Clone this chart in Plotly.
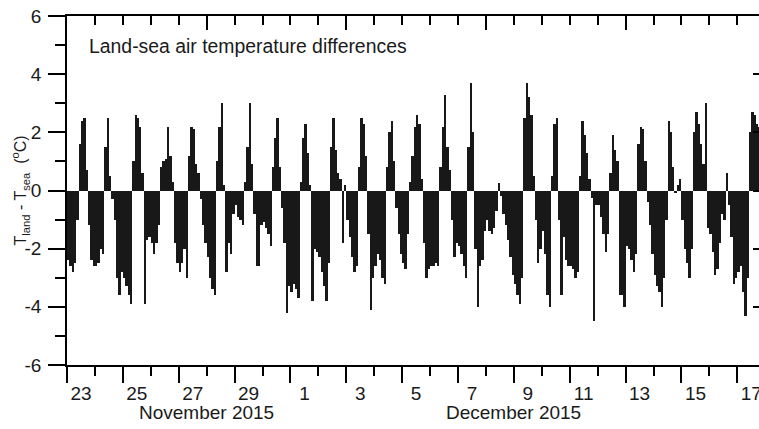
import pandas as pd
import plotly.graph_objects as go

# Land-sea air temperature difference (degC), 2-hourly bins (00-02, 02-04, ... 22-24 h)
nov23 = [-2.4, -2.6, -2.8, -2.5, -1.0, 1.6, 2.4, 2.5, 0.7, -1.2, -2.4, -2.6]
nov24 = [-2.6, -2.5, -2.0, -2.2, 1.5, 2.5, 0.5, -0.3, -1.0, -3.0, -3.6, -2.8]
nov25 = [-3.0, -3.3, -3.6, -3.9, 1.0, 2.6, 2.5, 2.2, 0.6, -3.9, -1.7, -1.6]
nov26 = [-1.8, -2.2, -1.8, -1.2, 0.8, 1.0, 1.1, 2.2, 1.2, 0.3, -1.8, -2.5]
nov27 = [-2.8, -2.5, -2.0, -3.0, 1.2, 2.2, 2.1, 0.9, 0.6, -0.3, -1.2, -1.8]
nov28 = [-2.3, -3.0, -3.4, -3.6, 1.0, 2.2, 3.0, 0.2, -2.8, -1.8, -2.2, -0.8]
nov29 = [-0.5, -0.9, -1.0, -1.2, 0.3, 1.5, 3.0, 0.9, -0.8, -2.6, -2.6, -1.2]
nov30 = [-1.1, -1.3, -1.5, -1.9, 0.8, 1.8, 2.5, 0.8, -0.6, -1.8, -4.2, -3.3]
dec01 = [-3.5, -3.2, -3.4, -3.7, 0.3, 1.8, 2.3, 1.3, 0.2, -3.8, -2.0, -2.1]
dec02 = [-2.3, -2.8, -3.3, -3.8, -2.5, 1.5, 2.5, 1.4, 0.6, 0.4, -1.8, 0.2]
dec03 = [-1.0, -1.6, -2.3, -2.8, -2.6, 0.8, 2.5, 2.3, 1.2, -1.5, -4.1, -3.0]
dec04 = [-2.6, -2.2, -2.4, -3.0, -3.2, 0.8, 2.0, 2.4, 1.0, -0.6, -1.5, -2.2]
dec05 = [-2.5, -2.7, -1.5, 0.3, 1.2, 2.2, 2.6, 2.3, 0.4, -1.8, -3.0, -2.7]
dec06 = [-2.6, -2.6, -2.5, -2.6, 0.8, 2.2, 3.3, 1.5, 0.7, -1.0, -2.3, -1.8]
dec07 = [-1.9, -2.2, -2.6, -3.0, 1.5, 3.7, 2.0, -2.0, -4.0, -2.6, -2.4, -1.4]
dec08 = [-1.0, -1.4, -1.5, -1.3, -0.7, 0.25, -0.2, -0.8, -1.2, -1.7, -2.3, -2.9]
dec09 = [-3.2, -3.6, -3.9, -3.0, 2.5, 3.7, 3.2, 2.6, 0.5, -1.0, -2.5, -2.0]
dec10 = [-1.4, -2.2, -3.6, -4.0, 0.5, 2.3, 2.5, -1.0, -3.6, -1.6, -2.4, -2.6]
dec11 = [-2.6, -2.7, -3.0, -2.8, 0.5, 2.4, 1.9, 1.3, 0.4, -0.25, -4.5, -0.5]
dec12 = [-0.5, -0.9, -1.5, -2.1, -1.5, 0.6, 1.9, 1.4, 1.0, -3.6, -3.6, -4.0]
dec13 = [-1.9, -2.0, -2.4, -2.8, -2.2, 1.6, 2.2, 2.1, 1.0, -0.4, -1.2, -2.2]
dec14 = [-2.9, -3.3, -3.5, -4.0, -3.0, -1.0, 2.4, 2.0, 0.8, -0.1, 0.2, 0.4]
dec15 = [-1.0, -2.0, -2.5, -3.0, -2.0, 2.0, 2.7, 2.3, 1.6, 0.9, 3.0, -1.3]
dec16 = [-1.5, -2.1, -2.9, -2.7, -1.8, -0.8, -1.0, 0.6, -0.5, -1.6, -3.2, -3.0]
dec17 = [-2.8, -2.6, -3.5, -4.3, -3.0, 2.0, 2.7, 2.6, 2.3, 2.2]

days = [nov23, nov24, nov25, nov26, nov27, nov28, nov29, nov30,
        dec01, dec02, dec03, dec04, dec05, dec06, dec07, dec08, dec09,
        dec10, dec11, dec12, dec13, dec14, dec15, dec16, dec17]
values = [v for d in days for v in d]
times = pd.date_range("2015-11-23 01:00", periods=len(values), freq="2h")

day_labels = ["23", "25", "27", "29", "1", "3", "5", "7", "9", "11", "13", "15", "17"]
label_dates = ["2015-11-23", "2015-11-25", "2015-11-27", "2015-11-29", "2015-12-01",
               "2015-12-03", "2015-12-05", "2015-12-07", "2015-12-09", "2015-12-11",
               "2015-12-13", "2015-12-15", "2015-12-17"]
label_pos = [pd.Timestamp(d) + pd.Timedelta(hours=12) for d in label_dates]
y_ticks = [-6, -4, -2, 0, 2, 4, 6]
y_ticktext = ["-6", "-4", "-2", "0", "2", "4", "6"]

x_range = ["2015-11-23 00:00", "2015-12-17 18:37"]
DAY = 86400000
FONT = "Liberation Sans, Arial, Helvetica, sans-serif"
INK = "#1a1a1a"
FS = 19

fig = go.Figure()
fig.add_trace(go.Bar(x=times, y=values, width=2 * 3600 * 1000,
                     marker=dict(color="#181818", line=dict(width=0)),
                     showlegend=False, hoverinfo="skip"))
fig.add_trace(go.Scatter(x=[], y=[], xaxis="x2", yaxis="y2", showlegend=False))
fig.add_trace(go.Scatter(x=[], y=[], xaxis="x3", yaxis="y", showlegend=False))

fig.update_layout(
    width=759, height=429,
    margin=dict(l=67, r=0, t=16, b=64),
    paper_bgcolor="white", plot_bgcolor="white",
    bargap=0,
    font=dict(family=FONT, size=FS, color=INK),
    xaxis=dict(type="date", range=x_range, showgrid=False, zeroline=False,
               showline=True, linecolor="black", linewidth=1.5, automargin=False,
               ticks="outside", tickmode="linear", tick0="2015-11-23", dtick=2 * DAY,
               ticklen=16, tickwidth=1.5, tickcolor="black", showticklabels=False,
               minor=dict(ticks="outside", tickmode="linear", tick0="2015-11-23", dtick=DAY,
                          ticklen=9, tickwidth=1.5, tickcolor="black", showgrid=False)),
    xaxis2=dict(type="date", range=x_range, overlaying="x", side="top", anchor="y",
                showgrid=False, zeroline=False, showline=True, linecolor="black", linewidth=1.5,
                automargin=False,
                ticks="inside", tickmode="linear", tick0="2015-11-23", dtick=5 * DAY,
                ticklen=14, tickwidth=1.5, tickcolor="black", showticklabels=False,
                minor=dict(ticks="inside", tickmode="linear", tick0="2015-11-23", dtick=DAY,
                           ticklen=9, tickwidth=1.5, tickcolor="black", showgrid=False)),
    xaxis3=dict(type="date", range=x_range, overlaying="x", side="bottom", anchor="y",
                showgrid=False, zeroline=False, showline=False, automargin=False,
                tickmode="array", tickvals=label_pos, ticktext=day_labels,
                ticks="outside", ticklen=11, tickcolor="rgba(0,0,0,0)",
                ticklabeloverflow="allow",
                tickfont=dict(family=FONT, size=FS, color=INK)),
    yaxis=dict(range=[-6, 6], showgrid=False, zeroline=False, automargin=False,
               showline=True, linecolor="black", linewidth=1.5,
               ticks="outside", tickmode="array", tickvals=y_ticks, ticktext=y_ticktext,
               ticklen=17, tickwidth=1.5, tickcolor="black", ticklabelstandoff=3,
               tickfont=dict(family=FONT, size=FS, color=INK),
               minor=dict(ticks="outside", tickmode="linear", tick0=0, dtick=1,
                          ticklen=10, tickwidth=1.5, tickcolor="black", showgrid=False)),
    yaxis2=dict(range=[-6, 6], overlaying="y", side="right", anchor="x",
                showgrid=False, zeroline=False, showline=False, automargin=False,
                ticks="inside", tickmode="array", tickvals=y_ticks, ticklen=6,
                tickwidth=1.5, tickcolor="black", showticklabels=False),
)

fig.add_annotation(text="Land-sea air temperature differences", xref="paper", yref="paper",
                   x=0.029, y=0.914, xanchor="left", yanchor="middle", showarrow=False,
                   font=dict(family=FONT, size=19.4, color=INK))
fig.add_annotation(text="T<sub>land</sub> - T<sub>sea</sub>  (<sup>o</sup>C)",
                   xref="paper", yref="paper", x=-0.068, y=0.5, textangle=-90,
                   xanchor="center", yanchor="middle", showarrow=False,
                   font=dict(family=FONT, size=16, color=INK))
fig.add_annotation(text="November 2015", xref="x", yref="paper", x="2015-11-28 00:00",
                   y=-0.1375, xanchor="center", yanchor="middle", showarrow=False,
                   font=dict(family=FONT, size=FS, color=INK))
fig.add_annotation(text="December 2015", xref="x", yref="paper", x="2015-12-09 00:00",
                   y=-0.1375, xanchor="center", yanchor="middle", showarrow=False,
                   font=dict(family=FONT, size=FS, color=INK))

fig.write_html("out.html", config={"displayModeBar": False},
               post_script="document.body.style.margin='0px';")
